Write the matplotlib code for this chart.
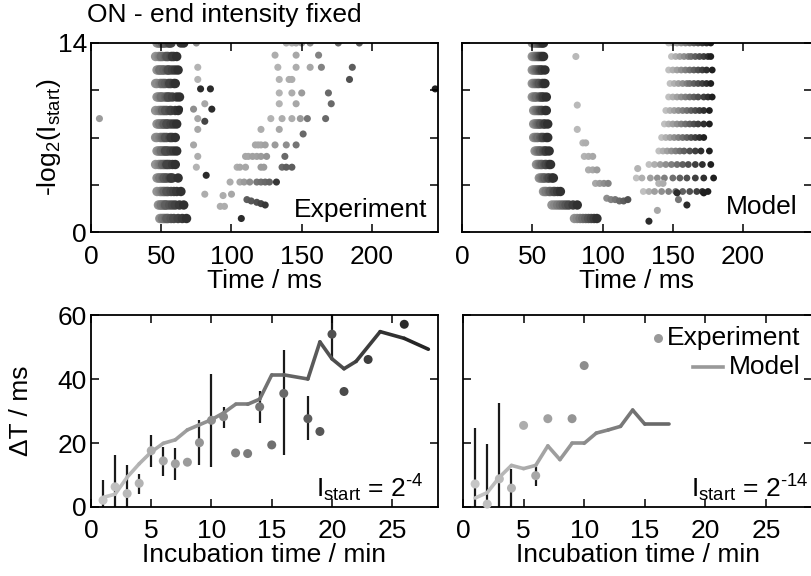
import numpy as np
import matplotlib.pyplot as plt

plt.rcParams['font.family'] = ['Liberation Sans', 'DejaVu Sans']
plt.rcParams['mathtext.fontset'] = 'custom'
plt.rcParams['mathtext.rm'] = 'Liberation Sans'
plt.rcParams['mathtext.it'] = 'Liberation Sans:italic'
plt.rcParams['mathtext.default'] = 'regular'

# ---- top left: experiment, -log2(I_start) vs time (ms) ----
exp_rows = [14, 13, 12, 11, 10, 9, 8, 7, 6, 5, 4, 3, 2, 1]
exp_fast = [
    [47, 48, 50, 49, 52, 53, 51, 55, 57, 56, 64, 66],
    [46, 48, 49, 51, 50, 53, 55, 54, 57, 59, 58, 61],
    [47, 48, 50, 51, 49, 52, 54, 56, 55, 58, 60, 62],
    [46, 47, 49, 50, 52, 51, 53, 55, 57, 56, 59, 60],
    [47, 48, 49, 51, 50, 53, 54, 56, 55, 58, 61, 63],
    [46, 48, 49, 50, 52, 51, 54, 53, 56, 57, 60, 62],
    [47, 48, 50, 49, 51, 53, 52, 55, 54, 57, 59, 61],
    [46, 47, 49, 50, 51, 52, 54, 53, 56, 58, 57, 60],
    [47, 48, 49, 51, 50, 52, 54, 55, 53, 57, 59, 61],
    [46, 48, 49, 50, 52, 51, 53, 55, 56, 54, 58, 60],
    [47, 48, 50, 49, 51, 53, 52, 54, 56, 58, 57, 62],
    [47, 49, 50, 51, 53, 52, 55, 54, 57, 59, 61, 64],
    [48, 49, 51, 50, 52, 54, 53, 56, 58, 60, 63, 66],
    [49, 50, 52, 51, 53, 55, 54, 57, 59, 62, 65, 68],
]
# slower responses: time, level, incubation time (min)
exp_slow_t = [75, 139, 143, 146, 150, 156, 176, 191,
              131, 146, 162,
              76, 133, 146, 156, 164, 186,
              76, 134, 141, 143, 184,
              78, 85, 245,
              134, 143, 150, 169,
              81, 134, 146, 171,
              73, 63, 86,
              6, 76, 128, 136, 143, 149, 154, 167,
              81,
              76, 121, 134,
              151,
              73, 117, 119, 121, 124, 131, 139, 146,
              76, 110, 112, 115, 118, 121, 125, 138,
              75, 104, 106, 110, 121, 123, 136, 139, 143,
              82,
              99, 106, 109, 113, 118, 121, 124, 127, 132,
              81, 94, 100, 111, 114, 118, 121, 124,
              92, 95,
              107]
exp_slow_y = [14, 14, 14, 14, 14, 14, 14, 14,
              13.1, 13.1, 13.1,
              12.2, 12.2, 12.2, 12.2, 12.2, 12.2,
              11.3, 11.3, 11.3, 11.3, 11.3,
              10.6, 10.6, 10.6,
              10.3, 10.3, 10.3, 10.3,
              9.5, 9.5, 9.5, 9.5,
              9.1, 9.1, 9.1,
              8.4, 8.4, 8.4, 8.4, 8.4, 8.4, 8.4, 8.4,
              8.2,
              7.6, 7.6, 7.6,
              7.26,
              6.45, 6.45, 6.45, 6.45, 6.45, 6.45, 6.45, 6.45,
              5.6, 5.6, 5.6, 5.6, 5.6, 5.6, 5.6, 5.6,
              4.8, 4.8, 4.8, 4.8, 4.8, 4.8, 4.8, 4.8, 4.8,
              4.2,
              3.7, 3.7, 3.7, 3.7, 3.7, 3.7, 3.7, 3.7, 3.7,
              2.8, 2.7, 2.8, 2.4, 2.3, 2.2, 2.1, 2.0,
              1.9, 1.9,
              1.0]
exp_slow_inc = [10, 5, 5, 6, 8, 10, 16, 18,
                5, 6, 12,
                4, 4, 5, 6, 12, 18,
                4, 4, 5, 5, 20,
                26, 26, 28,
                4, 5, 8, 16,
                6, 4, 6, 16,
                10, 26, 26,
                8, 6, 4, 5, 5, 8, 14, 16,
                22,
                6, 5, 6,
                16,
                6, 6, 6, 6, 7, 8, 10, 14,
                5, 6, 6, 7, 7, 8, 9, 16,
                4, 5, 6, 6, 8, 8, 16, 18, 18,
                26,
                5, 6, 8, 10, 14, 15, 16, 17, 24,
                5, 5, 6, 18, 19, 20, 22, 24,
                5, 5,
                26]

# ---- top right: model ----
mod_rows = [14, 13, 12, 11, 10, 9, 8, 7, 6, 5, 4, 3, 2, 1]
mod_fast = [
    [50, 51, 52, 53, 54, 55, 56, 57, 58],
    [50, 51, 52, 53, 54, 55, 56, 57, 58],
    [50, 51, 52, 53, 54, 55, 56, 57, 59],
    [50, 51, 52, 53, 54, 55, 57, 58, 59],
    [50, 51, 52, 53, 55, 56, 57, 58, 60],
    [51, 52, 53, 54, 55, 56, 57, 59, 60],
    [51, 52, 53, 54, 55, 56, 58, 59, 61],
    [51, 52, 53, 54, 56, 57, 58, 60, 61],
    [52, 53, 54, 55, 56, 58, 59, 60, 62],
    [53, 54, 55, 56, 57, 59, 60, 62, 63],
    [55, 56, 57, 58, 59, 61, 62, 64, 65],
    [58, 59, 60, 62, 63, 65, 66, 68, 70],
    [64, 66, 68, 70, 72, 74, 76, 79, 82],
    [80, 82, 84, 86, 88, 90, 92, 94, 96],
]
mod_slow_rows = [14, 13, 12, 11, 10, 9, 8, 7, 6, 5, 4, 3]
mod_slow = [
    [147, 150, 153, 156, 159, 162, 165, 168, 171, 174, 177],
    [149, 152, 155, 158, 161, 163, 166, 169, 172, 175, 177],
    [147, 150, 153, 156, 159, 162, 165, 168, 171, 174, 178],
    [148, 151, 154, 157, 160, 162, 165, 168, 171, 174, 177],
    [147, 150, 153, 156, 159, 162, 165, 168, 172, 175, 178],
    [145, 148, 151, 154, 157, 160, 163, 166, 169, 172, 176],
    [144, 147, 150, 153, 156, 159, 162, 165, 168, 172, 176],
    [142, 145, 148, 151, 154, 157, 160, 163, 166, 169, 172],
    [140, 143, 146, 149, 152, 155, 158, 162, 166, 170, 176],
    [133, 137, 141, 145, 149, 153, 157, 161, 166, 171, 177],
    [124, 128, 134, 139, 144, 150, 155, 160, 166, 172, 179],
    [129, 133, 137, 142, 147, 152, 157, 162, 167, 171, 175],
]
mod_mid_t = [81, 82, 82, 86, 88, 87, 90, 93, 90, 93, 96, 95, 98, 101, 104,
             103, 106, 109, 112, 115, 118, 125, 140, 143, 133, 139, 154, 160, 153, 172]
mod_mid_y = [13, 9.4, 7.6, 6.6, 6.6, 5.6, 5.6, 5.6, 4.6, 4.6, 4.6, 3.6, 3.6, 3.6, 3.6,
             2.5, 2.4, 2.4, 2.3, 2.3, 2.4, 4.7, 3.6, 3.6, 0.8, 1.6, 2.4, 2.0, 2.9, 2.9]
mod_mid_inc = [3, 3, 3, 4, 5, 4, 5, 6, 5, 6, 8, 6, 8, 10, 12,
               10, 12, 14, 16, 18, 20, 4, 4, 5, 26, 6, 14, 26, 26, 28]

# ---- bottom left: I_start = 2^-4 ----
exp4_t = [1, 2, 3, 4, 5, 6, 7, 8, 9, 10, 11, 12, 13, 14, 15, 16, 18, 19, 20, 21, 23, 26]
exp4_dt = [2.1, 6.3, 4.2, 7.4, 17.6, 14.4, 13.5, 14.0, 20.1, 27.1, 28.2, 16.9, 16.7,
           31.3, 19.4, 35.5, 27.6, 23.6, 54.0, 36.1, 46.1, 57.1]
exp4_lo = [0, 0, 0, 4, 12.5, 9.8, 8.5, np.nan, 13, 12.5, 24.7, np.nan, np.nan,
           26.3, np.nan, 16.2, 21, np.nan, 46.3, np.nan, np.nan, np.nan]
exp4_hi = [8.3, 16.2, 13, 10.4, 22.5, 18.8, 18.3, np.nan, 27.3, 41.6, 31.3, np.nan, np.nan,
           36.3, np.nan, 49, 34.7, np.nan, 62, np.nan, np.nan, np.nan]
model4_t = [1, 2, 3, 4, 5, 6, 7, 8, 9, 10, 11, 12, 13, 14, 15, 16, 18, 19, 20, 21, 22, 24, 26, 28]
model4_dt = [3.0, 4.0, 9.3, 13.5, 17.2, 19.9, 21.0, 24.1, 25.7, 27.3, 29.4, 32.1, 32.1, 33.7,
             41.3, 41.3, 40.0, 51.6, 46.3, 43.2, 45.5, 54.8, 52.7, 49.3]

# ---- bottom right: I_start = 2^-14 ----
exp14_t = [1, 2, 3, 4, 5, 6, 7, 9, 10]
exp14_dt = [7.2, 0.9, 8.8, 5.9, 25.5, 9.8, 27.6, 27.6, 44.2]
exp14_lo = [0, 0, 0, 0, np.nan, 6.7, np.nan, np.nan, np.nan]
exp14_hi = [24.7, 19.7, 32.4, 12, np.nan, 12.6, np.nan, np.nan, np.nan]
model14_t = [1, 2, 3, 4, 5, 6, 7, 8, 9, 10, 11, 12, 13, 14, 15, 17]
model14_dt = [2.8, 4.5, 9.3, 13.0, 12.0, 13.0, 19.1, 14.8, 19.9, 19.9, 23.1, 24.1, 25.2,
              30.3, 25.9, 25.9]


def shade(inc):
    # incubation time -> gray level (light early, dark late)
    v = np.clip(0.8 - 0.68 * np.atleast_1d(np.asarray(inc, float)) / 28, 0.08, 0.85)
    return [str(round(x, 3)) for x in v]


FS = 19

fig = plt.figure(figsize=(8.11, 5.76), dpi=100)
ax1 = fig.add_axes([91/811, 1-232/576, 347/811, 189/576])
ax2 = fig.add_axes([462/811, 1-232/576, 350/811, 189/576])
ax3 = fig.add_axes([91/811, 1-507/576, 347/811, 192/576])
ax4 = fig.add_axes([463/811, 1-507/576, 349/811, 192/576])

for ax in (ax1, ax2, ax3, ax4):
    for s in ax.spines.values():
        s.set_linewidth(1.3)
    ax.tick_params(direction='in', top=True, right=True, length=6, width=1.1,
                   labelsize=FS)
    ax.tick_params(axis='x', pad=9)
    ax.tick_params(axis='y', pad=3)

# top left
for y, xs in zip(exp_rows, exp_fast):
    ax1.scatter(xs, [y]*len(xs), s=46, lw=0, c=shade(np.linspace(9, 25, len(xs))))
ax1.scatter(exp_slow_t, exp_slow_y, s=26, lw=0, c=shade(exp_slow_inc))

# top right
for y, xs in zip(mod_rows, mod_fast):
    ax2.scatter(xs, [y]*len(xs), s=46, lw=0, c=shade(np.linspace(9, 25, len(xs))))
for y, xs in zip(mod_slow_rows, mod_slow):
    ax2.scatter(xs, [y]*len(xs), s=24, lw=0, c=shade(np.linspace(2, 28, len(xs))))
ax2.scatter(mod_mid_t, mod_mid_y, s=26, lw=0, c=shade(mod_mid_inc))

for ax, xmax in ((ax1, 247), (ax2, 249)):
    ax.set_xlim(0, xmax)
    ax.set_ylim(0, 14)
    ax.set_xticks([0, 50, 100, 150, 200])
    ax.set_yticks([0, 3.5, 7, 10.5, 14])
    ax.set_xlabel('Time / ms', fontsize=FS, labelpad=0)
ax1.set_yticklabels(['0', '', '', '', '14'])
ax2.set_yticklabels([])
ax1.set_ylabel(r'-log$_2$(I$_{start}$)', fontsize=FS)
ax1.yaxis.set_label_coords(-0.081, 0.5)
ax1.text(0.968, 0.116, 'Experiment', transform=ax1.transAxes, ha='right',
         va='center', fontsize=FS)
ax2.text(0.96, 0.13, 'Model', transform=ax2.transAxes, ha='right',
         va='center', fontsize=FS)


def bottom_panel(ax, et, edt, elo, ehi, mt, mdt):
    et = np.asarray(et, float)
    lo = np.asarray(elo, float)
    hi = np.asarray(ehi, float)
    ok = ~np.isnan(lo)
    ax.vlines(et[ok], lo[ok], hi[ok], color='0.1', lw=1.6, zorder=1)
    for i in range(len(mt) - 1):
        ax.plot(mt[i:i+2], mdt[i:i+2], color=shade((mt[i] + mt[i+1]) / 2)[0],
                lw=2.6, solid_capstyle='round', zorder=2)
    ax.scatter(et, edt, s=42, lw=0, c=shade(et), zorder=3, clip_on=False)
    ax.set_xlim(0, 28.8)
    ax.set_ylim(0, 60)
    ax.set_xticks([0, 5, 10, 15, 20, 25])
    ax.set_yticks([0, 20, 40, 60])
    ax.set_xlabel('Incubation time / min', fontsize=FS, labelpad=0)


bottom_panel(ax3, exp4_t, exp4_dt, exp4_lo, exp4_hi, model4_t, model4_dt)
bottom_panel(ax4, exp14_t, exp14_dt, exp14_lo, exp14_hi, model14_t, model14_dt)
ax4.set_yticklabels([])
ax3.set_ylabel('ΔT / ms', fontsize=FS)
ax3.yaxis.set_label_coords(-0.167, 0.5)

ax3.text(0.957, 0.05, r'I$_{start}$ = 2$^{\text{-}4}$', transform=ax3.transAxes,
         ha='right', va='baseline', fontsize=FS)
ax4.text(0.99, 0.05, r'I$_{start}$ = 2$^{\text{-}14}$', transform=ax4.transAxes,
         ha='right', va='baseline', fontsize=FS)

# legend of the right panel
ax4.scatter([0.56], [0.88], s=42, lw=0, c='0.6', transform=ax4.transAxes)
ax4.text(0.968, 0.88, 'Experiment', transform=ax4.transAxes, ha='right',
         va='center', fontsize=FS)
ax4.plot([0.658, 0.744], [0.73, 0.73], color='0.6', lw=2.6, transform=ax4.transAxes)
ax4.text(0.968, 0.73, 'Model', transform=ax4.transAxes, ha='right',
         va='center', fontsize=FS)

fig.text(87/811, 1-15/576, 'ON - end intensity fixed', fontsize=FS,
         ha='left', va='center')

fig.savefig('out.png', dpi=100)
